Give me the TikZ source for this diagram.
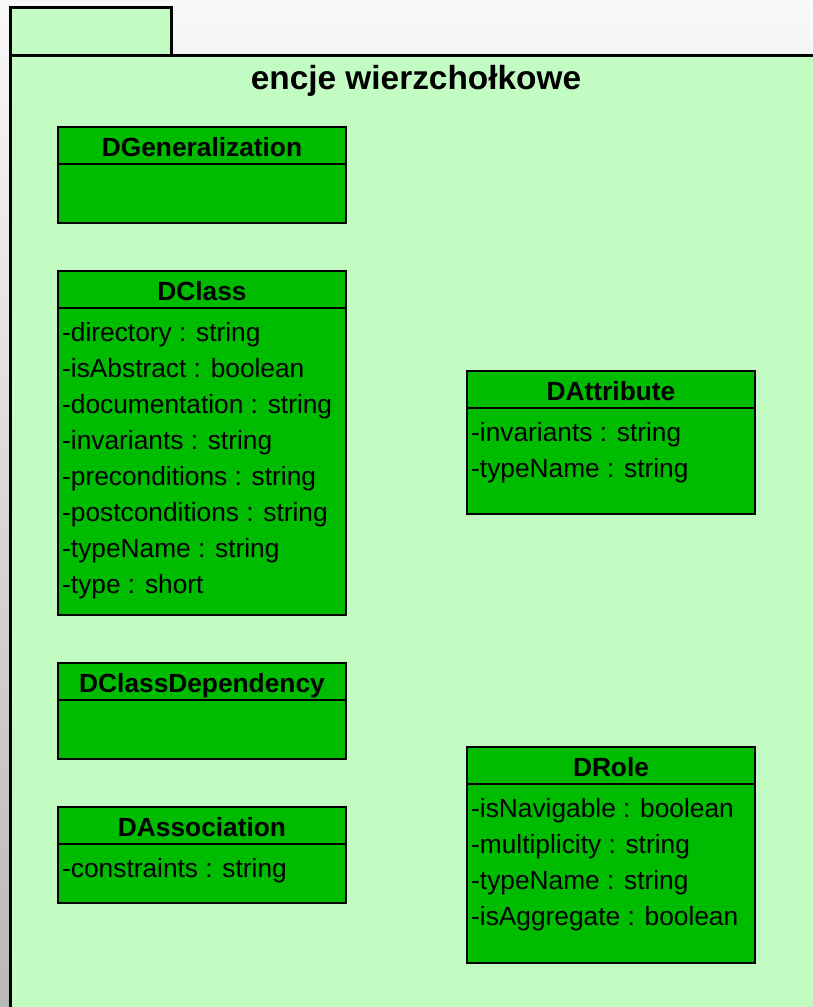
\documentclass[tikz,border=0pt]{standalone}
\usepackage{fontspec}
\setmainfont{Liberation Sans}
\definecolor{pagetop}{RGB}{248,248,248}
\definecolor{pagebot}{RGB}{184,184,184}
\definecolor{pkgfill}{RGB}{195,252,195}
\definecolor{clsfill}{RGB}{0,188,0}
\tikzset{
  pkgline/.style={draw=black, line width=3pt, fill=pkgfill},
  clsbox/.style={draw=black, line width=2.6pt, fill=clsfill},
  clsname/.style={anchor=base, inner sep=0pt, font=\fontsize{26.3}{30}\selectfont\bfseries},
  attr/.style={anchor=base west, inner sep=0pt, font=\fontsize{26.3}{30}\selectfont},
  pkgtitle/.style={anchor=base, inner sep=0pt, font=\fontsize{33.4}{38}\selectfont\bfseries}
}
% a UML class: #1 name, #2 left, #3 top, #4 right, #5 bottom, #6 title, #7 attribute lines
\newcommand{\umlclass}[7]{%
  \draw[clsbox] (#2,#3) rectangle (#4,#5);
  \draw[black, line width=2.6pt] (#2,#3+37) -- (#4,#3+37);
  \node[clsname] (#1) at ({(#2+#4)/2},#3+29) {#6};
  \foreach \txt [count=\i from 0] in {#7} {
    \node[attr] (#1-a\i) at (#2+4,#3+70+36*\i) {\txt};
  }
}
\begin{document}
\begin{tikzpicture}[x=1pt, y=-1pt]
  % page background
  \shade[top color=pagetop, bottom color=pagebot] (0,0) rectangle (812,1007);
  \useasboundingbox (0,0) rectangle (812,1007);
  % package with tab
  \draw[pkgline] (10,7) rectangle (171,55);
  \draw[pkgline] (10,1020) -- (10,55) -- (830,55) -- (830,1020) -- cycle;
  \node[pkgtitle] (pkg) at (416,89) {encje wierzchołkowe};
  % classes
  \umlclass{gen}{58}{127}{346}{223}{DGeneralization}{{}}
  \umlclass{cls}{58}{271}{346}{615}{DClass}{-directory : string,-isAbstract : boolean,-documentation : string,-invariants : string,-preconditions : string,-postconditions : string,-typeName : string,-type : short}
  \umlclass{dep}{58}{663}{346}{759}{DClassDependency}{{}}
  \umlclass{asc}{58}{807}{346}{903}{DAssociation}{-constraints : string}
  \umlclass{att}{467}{371}{755}{514}{DAttribute}{-invariants : string,-typeName : string}
  \umlclass{rol}{467}{747}{755}{963}{DRole}{-isNavigable : boolean,-multiplicity : string,-typeName : string,-isAggregate : boolean}
\end{tikzpicture}
\end{document}
